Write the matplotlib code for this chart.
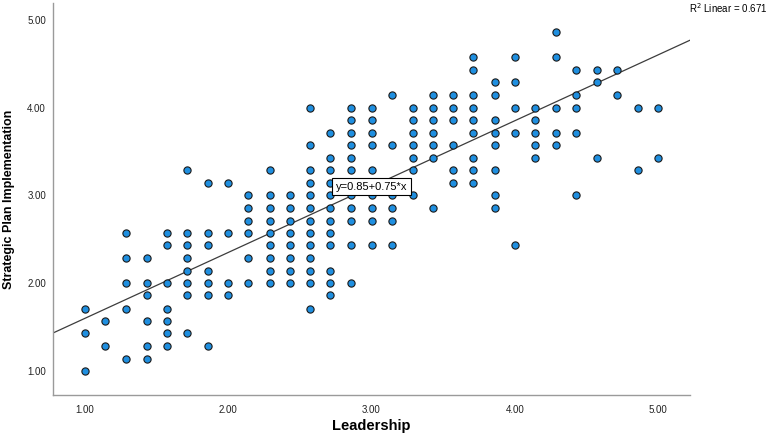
import numpy as np
import matplotlib
matplotlib.use("Agg")
import matplotlib.pyplot as plt

plt.rcParams["font.family"] = ["Liberation Sans", "DejaVu Sans"]

# Strategic plan score for each row of points, and the leadership scores seen on that row
plan_levels = [1.00, 1.14, 1.29, 1.43, 1.57, 1.71, 1.86, 2.00, 2.14, 2.29, 2.43, 2.57,
               2.71, 2.86, 3.00, 3.14, 3.29, 3.43, 3.57, 3.71, 3.86, 4.00, 4.14, 4.29,
               4.43, 4.57, 4.86]
leadership_by_level = [
    [1.00],
    [1.29, 1.43],
    [1.14, 1.43, 1.57, 1.86],
    [1.00, 1.57, 1.71],
    [1.14, 1.43, 1.57],
    [1.00, 1.29, 1.57, 2.57],
    [1.43, 1.71, 1.86, 2.00, 2.71],
    [1.29, 1.43, 1.57, 1.71, 1.86, 2.00, 2.14, 2.29, 2.43, 2.57, 2.71, 2.86],
    [1.71, 1.86, 2.29, 2.43, 2.57, 2.71],
    [1.29, 1.43, 1.71, 2.14, 2.29, 2.43, 2.57],
    [1.57, 1.71, 1.86, 2.29, 2.43, 2.57, 2.71, 2.86, 3.00, 3.14, 4.00],
    [1.29, 1.57, 1.71, 1.86, 2.00, 2.14, 2.29, 2.43, 2.57, 2.71],
    [2.14, 2.29, 2.43, 2.57, 2.71, 2.86, 3.00, 3.14],
    [2.14, 2.29, 2.43, 2.57, 2.71, 2.86, 3.00, 3.14, 3.43, 3.86],
    [2.14, 2.29, 2.43, 2.57, 2.71, 2.86, 3.00, 3.14, 3.29, 3.86, 4.43],
    [1.86, 2.00, 2.57, 2.71, 3.57, 3.71],
    [1.71, 2.29, 2.57, 2.71, 2.86, 3.00, 3.29, 3.57, 3.71, 3.86, 4.86],
    [2.71, 2.86, 3.29, 3.43, 3.71, 4.14, 4.57, 5.00],
    [2.57, 2.86, 3.00, 3.14, 3.29, 3.43, 3.57, 3.86, 4.14, 4.29],
    [2.71, 2.86, 3.00, 3.29, 3.43, 3.71, 3.86, 4.00, 4.14, 4.29, 4.43],
    [2.86, 3.00, 3.29, 3.43, 3.57, 3.71, 3.86, 4.14],
    [2.57, 2.86, 3.00, 3.29, 3.43, 3.57, 3.71, 4.00, 4.14, 4.29, 4.43, 4.86, 5.00],
    [3.14, 3.43, 3.57, 3.71, 3.86, 4.43, 4.71],
    [3.86, 4.00, 4.57],
    [3.71, 4.43, 4.57, 4.71],
    [3.71, 4.00, 4.29],
    [4.29],
]

# Linear fit reported with the chart
intercept = 0.85
slope = 0.75
r_squared = 0.671

tick_values = [1.00, 2.00, 3.00, 4.00, 5.00]

leadership = np.concatenate([np.array(xs) for xs in leadership_by_level])
strategic_plan = np.concatenate([np.full(len(xs), y) for y, xs in zip(plan_levels, leadership_by_level)])

fig = plt.figure(figsize=(7.7, 4.37), dpi=100)
ax = fig.add_axes([0.0688, 0.0961, 0.8273, 0.8970])

xlim = (0.777, 5.222)
ylim = (0.727, 5.19)

ax.scatter(leadership, strategic_plan, s=27, facecolor="#1f8fe0",
           edgecolor="#1a1a1a", linewidth=0.8, zorder=3)

xs = np.array(xlim)
ax.plot(xs, intercept + slope * xs, color="#3c3c3c", linewidth=0.9, zorder=2)

# equation label sits on the fit line at the middle of the x range
mid_x = sum(xlim) / 2
ax.text(mid_x, intercept + slope * mid_x, f"y={intercept:.2f}+{slope:.2f}*x",
        ha="center", va="center", fontsize=8, zorder=5,
        bbox=dict(boxstyle="square,pad=0.3", facecolor="white",
                  edgecolor="black", linewidth=0.8))

fig.text(0.997, 0.982, f"R$^2$ Linear = {r_squared:.3f}", ha="right", va="center",
         fontsize=7)

ax.set_xlim(*xlim)
ax.set_ylim(*ylim)
ax.set_xticks(tick_values)
ax.set_yticks(tick_values)
ax.set_xticklabels([f"{v:.2f}" for v in tick_values])
ax.set_yticklabels([f"{v:.2f}" for v in tick_values])
ax.tick_params(axis="both", length=0, labelsize=7, colors="#222222")
ax.tick_params(axis="x", pad=7)
ax.tick_params(axis="y", pad=5)

for side in ("top", "right"):
    ax.spines[side].set_visible(False)
for side in ("left", "bottom"):
    ax.spines[side].set_color("#9a9a9a")
    ax.spines[side].set_linewidth(1.0)

ax.set_xlabel("Leadership", fontsize=10.5, fontweight="bold")
ax.set_ylabel("Strategic Plan Implementation", fontsize=9, fontweight="bold")
ax.xaxis.set_label_coords(0.5, -0.062)
ax.yaxis.set_label_coords(-0.059, 0.5)

fig.savefig("out.png", dpi=100)
